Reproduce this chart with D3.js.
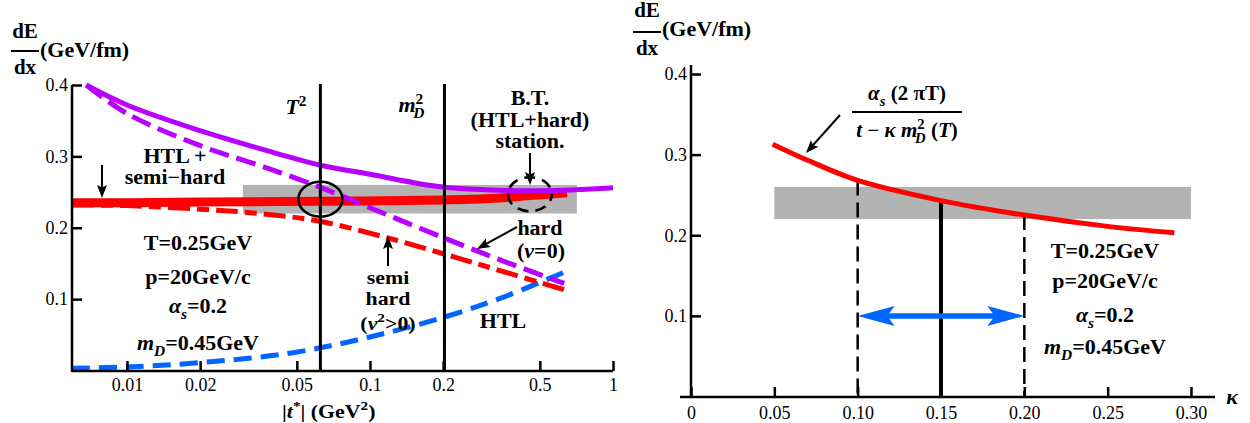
<!DOCTYPE html>
<html lang="en">
<head>
<meta charset="UTF-8">
<title>dE/dx vs |t*| and kappa</title>
<script src="https://d3js.org/d3.v7.min.js"></script>
<style>
  body { margin: 0; background: #fff; }
  svg text { font-family: "Liberation Serif", "Times New Roman", serif; fill: #000; }
  .tick text { font-size: 18px; }
  .tick line { stroke: #000; stroke-width: 2.5px; }
</style>
</head>
<body>
<script>
// ---- data: left panel (|t*| in GeV^2, dE/dx in GeV/fm) ----
const tTicks = [0.01, 0.02, 0.05, 0.1, 0.2, 0.5, 1];
const tTickLabels = ["0.01", "0.02", "0.05", "0.1", "0.2", "0.5", "1"];
const eTicks = [0.1, 0.2, 0.3, 0.4];
const eTickLabels = ["0.1", "0.2", "0.3", "0.4"];

// B.T. (HTL+hard), purple solid
const btT = [0.0068, 0.01, 0.02, 0.0377, 0.0622, 0.1, 0.2, 0.5, 1.0];
const btE = [0.400, 0.372, 0.336, 0.308, 0.288, 0.275, 0.257, 0.252, 0.256];
// hard (nu=0), purple dashed
const hardT = [0.0068, 0.01, 0.02, 0.0353, 0.0622, 0.1, 0.2075, 0.343, 0.63];
const hardE = [0.400, 0.360, 0.315, 0.287, 0.257, 0.228, 0.184, 0.155, 0.122];
// HTL + semi-hard, red solid
const semT = [0.00594, 0.01, 0.02, 0.0625, 0.2, 0.31, 0.455, 0.647];
const semE = [0.235, 0.235, 0.236, 0.237, 0.239, 0.241, 0.245, 0.249];
// semi hard (nu^2>0), red dashed
const shT = [0.00594, 0.01, 0.02, 0.035, 0.0622, 0.1175, 0.2075, 0.343, 0.647];
const shE = [0.232, 0.231, 0.226, 0.220, 0.209, 0.186, 0.162, 0.140, 0.112];
// HTL, blue dashed
const htlT = [0.00594, 0.01, 0.02, 0.0482, 0.1, 0.2075, 0.343, 0.623];
const htlE = [0.003, 0.005, 0.011, 0.025, 0.047, 0.076, 0.101, 0.137];

const T2 = 0.0625, mD2 = 0.2025;
const bandT = [0.03, 0.71], bandE = [0.22, 0.26];
const circleSolid = [0.0625, 0.240];
const circleDashed = [0.455, 0.247];

// ---- data: right panel (kappa) ----
const kTicks = [0, 0.05, 0.10, 0.15, 0.20, 0.25, 0.30];
const kTickLabels = ["0", "0.05", "0.10", "0.15", "0.20", "0.25", "0.30"];
const kapK = [0.049, 0.07, 0.10, 0.15, 0.20, 0.25, 0.29];
const kapE = [0.313, 0.293, 0.268, 0.243, 0.225, 0.211, 0.203];
const bandK = [0.05, 0.30];
const kLines = [0.10, 0.15, 0.20];
const kArrow = [0.10, 0.20], kArrowE = 0.1;

const RED = "#ff0000", PURPLE = "#b800ff", BLUE = "#0066ff", GRAY = "#b3b3b3";

const svg = d3.select("body").append("svg")
  .attr("width", 1250).attr("height", 423);

// ---- helpers ----
function rich(g, x, y, parts, opts = {}) {
  const size = opts.size || 20;
  const t = g.append("text")
    .attr("transform", `translate(${x},${y}) scale(${opts.sx || 1.1},1)`)
    .attr("text-anchor", opts.anchor || "middle")
    .style("font-size", size + "px")
    .style("font-weight", opts.weight || "bold");
  let shift = 0;
  parts.forEach(p => {
    if (typeof p === "string") p = { t: p };
    const target = p.sub ? size * 0.3 : p.sup ? -size * 0.42 : 0;
    const s = t.append("tspan").text(p.t).attr("dy", target - shift);
    shift = target;
    if (p.sub || p.sup) s.style("font-size", size * 0.7 + "px");
    if (p.it) s.style("font-style", "italic");
    if (p.dx) s.attr("dx", p.dx);
  });
  return t;
}

function arrow(g, x1, y1, x2, y2, color, w, hl, hw) {
  const a = Math.atan2(y2 - y1, x2 - x1);
  const c = Math.cos(a), s = Math.sin(a);
  const bx = x2 - hl * c, by = y2 - hl * s;
  const nx = x2 - hl * 0.8 * c, ny = y2 - hl * 0.8 * s;
  g.append("line").attr("x1", x1).attr("y1", y1).attr("x2", nx).attr("y2", ny)
    .attr("stroke", color).attr("stroke-width", w);
  g.append("path")
    .attr("d", `M${x2},${y2} L${bx - hw * s},${by + hw * c} L${nx},${ny} L${bx + hw * s},${by - hw * c} Z`)
    .attr("fill", color);
}

function fraction(g, cx, yTop, top, bottom, barY, barHalf) {
  rich(g, cx, yTop, [top], { size: 20, sx: 1.05 });
  g.append("line").attr("x1", cx - barHalf).attr("x2", cx + barHalf)
    .attr("y1", barY).attr("y2", barY).attr("stroke", "#000").attr("stroke-width", 2);
  rich(g, cx, barY + 23, [bottom], { size: 20, sx: 1.05 });
}

// ================= LEFT PANEL =================
const xL = d3.scaleLog().domain([0.00594, 1]).range([72, 613]);
const yL = d3.scaleLinear().domain([0, 0.4]).range([370.5, 85]);
const L = svg.append("g");

L.append("rect")
  .attr("x", xL(bandT[0])).attr("width", xL(bandT[1]) - xL(bandT[0]))
  .attr("y", yL(bandE[1])).attr("height", yL(bandE[0]) - yL(bandE[1]))
  .attr("fill", GRAY);

const lineL = d3.line().x(d => xL(d[0])).y(d => yL(d[1])).curve(d3.curveCatmullRom.alpha(0.5));
function curveL(ts, es, color, width, dash) {
  L.append("path").datum(d3.zip(ts, es)).attr("d", lineL)
    .attr("fill", "none").attr("stroke", color).attr("stroke-width", width)
    .attr("stroke-dasharray", dash || null);
}
curveL(htlT, htlE, BLUE, 5, "18,9");
curveL(shT, shE, RED, 5, "22,7,12,7");
curveL(semT, semE, RED, 9);
curveL(hardT, hardE, PURPLE, 5, "20,8");
curveL(btT, btE, PURPLE, 5);

// T^2 and m_D^2 markers
[T2, mD2].forEach(v => {
  L.append("line").attr("x1", xL(v)).attr("x2", xL(v))
    .attr("y1", 84).attr("y2", yL(0))
    .attr("stroke", "#000").attr("stroke-width", 3);
});

L.append("ellipse").attr("cx", xL(circleSolid[0])).attr("cy", yL(circleSolid[1]))
  .attr("rx", 22).attr("ry", 17.5).attr("fill", "none").attr("stroke", "#000").attr("stroke-width", 2.5);
L.append("ellipse").attr("cx", xL(circleDashed[0])).attr("cy", yL(circleDashed[1]))
  .attr("rx", 22).attr("ry", 17).attr("fill", "none").attr("stroke", "#000").attr("stroke-width", 2.5)
  .attr("stroke-dasharray", "11,7").attr("stroke-dashoffset", 4);

// axes
const axL = L.append("g").attr("transform", "translate(0,371)")
  .call(d3.axisBottom(xL).tickValues(tTicks).tickFormat((d, i) => tTickLabels[i])
    .tickSize(-10).tickPadding(7));
axL.select(".domain").remove();
L.append("line").attr("x1", xL.range()[0]).attr("x2", xL.range()[1])
  .attr("y1", 371).attr("y2", 371).attr("stroke", "#000").attr("stroke-width", 2.5);

const ayL = L.append("g").attr("transform", "translate(72,0)")
  .call(d3.axisLeft(yL).tickValues(eTicks).tickFormat((d, i) => eTickLabels[i])
    .tickSize(-10).tickPadding(4));
ayL.select(".domain").remove();
L.append("line").attr("x1", 72).attr("x2", 72)
  .attr("y1", yL(0.4)).attr("y2", 372).attr("stroke", "#000").attr("stroke-width", 2.5);

// titles
fraction(L, 25, 38, "dE", "dx", 51, 14);
rich(L, 40, 57, ["(GeV/fm)"], { anchor: "start", sx: 1.1 });
rich(L, 282, 418, ["|", { t: "t", it: true }, { t: "*", sup: true }, { t: "| (GeV" }, { t: "2", sup: true }, ")"],
  { anchor: "start", sx: 1.15, size: 19 });

// annotations
rich(L, xL(T2) - 35, 114, [{ t: "T", it: true }, { t: "2", sup: true }], { anchor: "start" });
rich(L, xL(mD2) - 46, 112, [{ t: "m", it: true }, { t: "2", sup: true }, { t: "D", sub: true, it: true, dx: -9 }], { anchor: "start" });

rich(L, 530, 105, ["B.T."]);
rich(L, 530, 127, ["(HTL+hard)"]);
rich(L, 530, 148, ["station."]);
arrow(L, 530, 153, 530, 185, "#000", 2, 13, 5);

rich(L, 175, 163, ["HTL +"]);
rich(L, 175, 184, ["semi\u2212hard"]);
arrow(L, 102, 165, 102, 198, "#000", 2, 13, 5);

rich(L, 198, 250, ["T=0.25GeV"]);
rich(L, 198, 284, ["p=20GeV/c"]);
rich(L, 198, 313, [{ t: "\u03b1", it: true }, { t: "s", sub: true, it: true }, "=0.2"]);
rich(L, 198, 350, [{ t: "m", it: true }, { t: "D", sub: true, it: true }, "=0.45GeV"]);

rich(L, 388, 284, ["semi"], { size: 19, sx: 1.15 });
rich(L, 388, 305, ["hard"], { size: 19, sx: 1.15 });
rich(L, 388, 330, ["(", { t: "\u03bd", it: true }, { t: "2", sup: true }, ">0)"], { size: 19, sx: 1.15 });
arrow(L, 388, 266, 388, 236, "#000", 2, 13, 5);

rich(L, 540, 235, ["hard"]);
rich(L, 541, 258, ["(", { t: "\u03bd", it: true }, "=0)"]);
arrow(L, 517, 227, 477, 249, "#000", 2, 13, 5);

rich(L, 503, 328, ["HTL"]);

// ================= RIGHT PANEL =================
const xR = d3.scaleLinear().domain([0, 0.3]).range([691, 1191]);
const yR = d3.scaleLinear().domain([0, 0.4]).range([396.5, 74]);
const R = svg.append("g");

R.append("rect")
  .attr("x", xR(bandK[0])).attr("width", xR(bandK[1]) - xR(bandK[0]))
  .attr("y", yR(bandE[1])).attr("height", yR(bandE[0]) - yR(bandE[1]))
  .attr("fill", GRAY);

const interpK = k => {
  const i = kapK.findIndex(v => v >= k);
  const t = (k - kapK[i - 1]) / (kapK[i] - kapK[i - 1]);
  return kapE[i - 1] + t * (kapE[i] - kapE[i - 1]);
};
kLines.forEach((k, i) => {
  R.append("line").attr("x1", xR(k)).attr("x2", xR(k))
    .attr("y1", yR(interpK(k))).attr("y2", yR(0))
    .attr("stroke", "#000").attr("stroke-width", i === 1 ? 4 : 2.5)
    .attr("stroke-dasharray", i === 1 ? null : "15,7");
});

const lineR = d3.line().x(d => xR(d[0])).y(d => yR(d[1])).curve(d3.curveCatmullRom.alpha(0.5));
R.append("path").datum(d3.zip(kapK, kapE)).attr("d", lineR)
  .attr("fill", "none").attr("stroke", RED).attr("stroke-width", 5);

// double arrow
const ax0 = xR(kArrow[0]), ax1 = xR(kArrow[1]), ay = yR(kArrowE);
arrow(R, (ax0 + ax1) / 2, ay, ax1, ay, BLUE, 5.5, 37, 10);
arrow(R, (ax0 + ax1) / 2, ay, ax0, ay, BLUE, 5.5, 37, 10);

// axes
const axR = R.append("g").attr("transform", "translate(0,397)")
  .call(d3.axisBottom(xR).tickValues(kTicks).tickFormat((d, i) => kTickLabels[i])
    .tickSize(-10).tickPadding(9));
axR.select(".domain").remove();
R.append("line").attr("x1", 680).attr("x2", 1215)
  .attr("y1", 397).attr("y2", 397).attr("stroke", "#000").attr("stroke-width", 2.5);

const ayR = R.append("g").attr("transform", "translate(691,0)")
  .call(d3.axisLeft(yR).tickValues(eTicks).tickFormat((d, i) => eTickLabels[i])
    .tickSize(-10).tickPadding(4));
ayR.select(".domain").remove();
R.append("line").attr("x1", 691).attr("x2", 691)
  .attr("y1", 65).attr("y2", 398).attr("stroke", "#000").attr("stroke-width", 2.5);

fraction(R, 647, 17, "dE", "dx", 32, 14);
rich(R, 662, 36, ["(GeV/fm)"], { anchor: "start", sx: 1.1 });
rich(R, 1232, 404, [{ t: "\u03ba", it: true }], { size: 20 });

// formula
rich(R, 907, 100, [{ t: "\u03b1", it: true }, { t: "s", sub: true, it: true }, { t: " (2 \u03c0T)" }], { size: 20, sx: 1.05 });
R.append("line").attr("x1", 852).attr("x2", 962).attr("y1", 112).attr("y2", 112)
  .attr("stroke", "#000").attr("stroke-width", 2);
rich(R, 907, 137, [{ t: "t", it: true }, " \u2212 ", { t: "\u03ba m", it: true }, { t: "2", sup: true },
  { t: "D", sub: true, it: true, dx: -9 }, " (", { t: "T", it: true }, ")"], { size: 20, sx: 1.05 });
arrow(R, 840, 115, 806, 153, "#000", 2, 13, 5);

rich(R, 1105, 258, ["T=0.25GeV"]);
rich(R, 1105, 288, ["p=20GeV/c"]);
rich(R, 1105, 322, [{ t: "\u03b1", it: true }, { t: "s", sub: true, it: true }, "=0.2"]);
rich(R, 1105, 354, [{ t: "m", it: true }, { t: "D", sub: true, it: true }, "=0.45GeV"]);
</script>
</body>
</html>
